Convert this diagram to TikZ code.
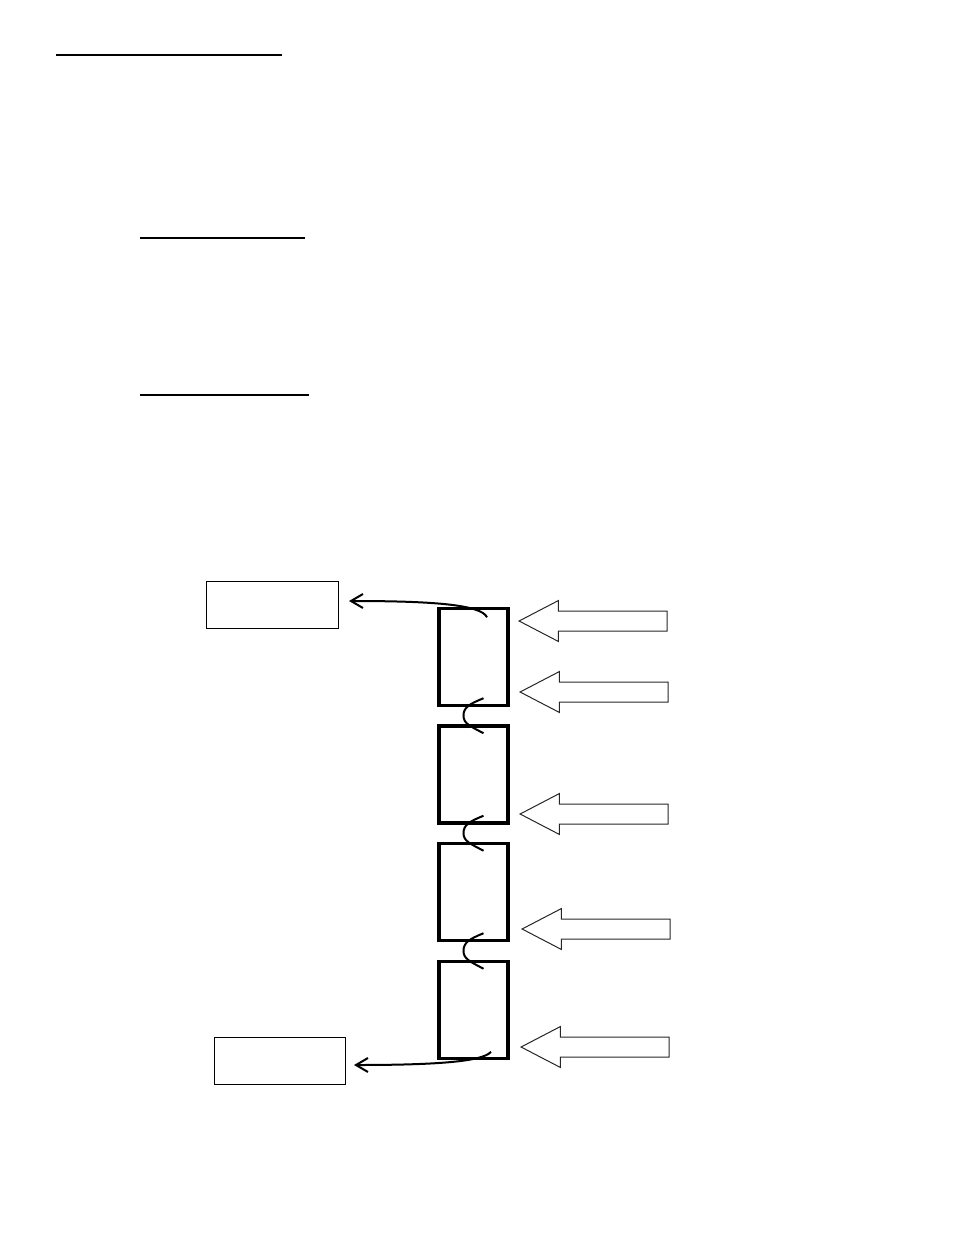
\documentclass[tikz,border=0pt]{standalone}
\usetikzlibrary{arrows.meta, shapes.arrows, calc}

\begin{document}
\begin{tikzpicture}[x=1pt, y=-1pt,
    stage/.style={draw, line width=3.5pt, minimum width=69pt, minimum height=97pt, inner sep=0pt},
    outbox/.style={draw, line width=1pt, minimum width=132pt, minimum height=47pt, inner sep=0pt},
    feed/.style={single arrow, draw=black!85, line width=1pt, shape border rotate=180,
      single arrow tip angle=55, single arrow head extend=10.5pt,
      inner xsep=0pt, inner ysep=9.5pt, minimum height=148pt, anchor=tip},
    link/.style={line width=2pt},
    outlink/.style={line width=2pt, -{Straight Barb[length=12pt, width=14pt, line width=2pt]}}]
  \useasboundingbox (0,0) rectangle (954,1235);

  % underlines at the top
  \foreach \a/\b/\y in {56/282/55, 140/305/238, 140/309/395}
    \draw [line width=1.8pt] (\a,\y) -- (\b,\y);

  % column of stages
  \foreach \i/\y in {1/657, 2/774.5, 3/892, 4/1010}
    \node [stage] (s\i) at (473.5,\y) {};
  \foreach \i/\j in {1/2, 2/3, 3/4}
    \draw [link] ($(s\i.south)+(10,-9)$) .. controls +(-15,6) and +(0,-8)
      .. ($(s\i.south)!.5!(s\j.north)+(-10,0)$) .. controls +(0,8) and +(-13,-7)
      .. ($(s\j.north)+(10,9)$);

  % inputs on the right
  \foreach \n/\x/\y in {1/518/621, 2/519/692, 3/519/814, 4/521/929, 5/520/1047}
    \node [feed] (f\n) at (\x,\y) {};

  % outputs on the left
  \node [outbox] (topout) at (272.5,605) {};
  \node [outbox, minimum width=131pt] (botout) at (280,1061) {};
  \draw [outlink] ($(s1.north)+(13.5,10.5)$) .. controls +(-6,-13) and +(80,0)
    .. ($(topout.east)+(10,-4)$);
  \draw [outlink] ($(s4.south)+(17.5,-8.5)$) .. controls +(-8,10) and +(80,0)
    .. ($(botout.east)+(8,4)$);
\end{tikzpicture}
\end{document}
